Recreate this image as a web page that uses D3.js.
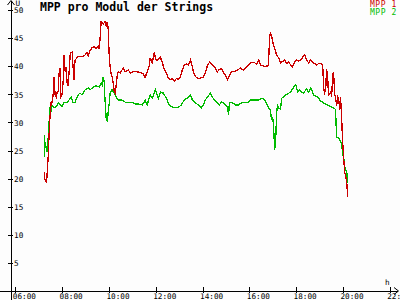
<!DOCTYPE html>
<html>
<head>
<meta charset="utf-8">
<script src="https://cdn.jsdelivr.net/npm/d3@7"></script>
<style>
  body { margin: 0; background: #fdfdfd; }
  svg { display: block; }
  text { font-family: "DejaVu Sans Mono", "Liberation Mono", monospace; }
</style>
</head>
<body>
<div id="chart"></div>
<script>
// MPP 1 (red) and MPP 2 (green), [time, volts per module]
const mpp1 = [
  ["07:14",21.2],["07:16",19.8],["07:19",19.4],["07:21",20.2],["07:24",23.5],["07:27",28.5],["07:29",31.0],
  ["07:32",33.6],["07:34",33.5],["07:37",34.8],["07:39",38.0],["07:42",35.0],["07:45",34.5],["07:47",35.3],
  ["07:50",35.5],["07:52",38.5],["07:55",39.7],["07:57",34.6],["08:00",35.0],["08:03",37.5],["08:05",42.0],
  ["08:08",39.0],["08:10",39.8],["08:13",37.0],["08:15",36.5],["08:18",39.0],["08:21",42.4],["08:26",42.5],
  ["08:28",40.0],["08:31",37.5],["08:33",41.0],["08:39",41.6],["08:46",41.8],["08:54",41.7],["08:59",42.0],
  ["09:04",42.4],["09:07",41.8],["09:12",42.8],["09:17",43.3],["09:22",43.5],["09:27",43.2],["09:33",43.6],
  ["09:35",43.0],["09:38",45.5],["09:40",47.9],["09:45",47.5],["09:50",47.9],["09:53",47.2],["09:56",47.9],
  ["09:58",46.8],["10:01",41.5],["10:03",40.0],["10:06",38.6],["10:08",38.2],["10:11",37.0],["10:14",35.4],
  ["10:16",35.2],["10:19",36.8],["10:21",38.2],["10:24",39.0],["10:29",38.8],["10:37",39.7],["10:42",39.0],
  ["10:50",39.3],["10:55",38.8],["11:02",39.0],["11:13",39.0],["11:20",38.9],["11:28",38.6],["11:33",38.0],
  ["11:38",39.0],["11:44",40.2],["11:46",41.5],["11:51",40.6],["11:56",42.3],["12:02",41.0],["12:07",41.3],
  ["12:12",41.6],["12:17",40.6],["12:22",39.5],["12:27",38.8],["12:32",38.0],["12:37",37.6],["12:43",37.8],
  ["12:48",37.4],["12:53",37.8],["12:58",37.6],["13:03",38.0],["13:08",39.3],["13:13",40.2],["13:19",40.4],
  ["13:24",40.2],["13:29",41.1],["13:34",40.0],["13:37",38.8],["13:44",38.0],["13:49",37.8],["13:55",37.9],
  ["14:02",38.0],["14:07",38.8],["14:13",40.2],["14:18",40.7],["14:25",40.2],["14:33",39.7],["14:38",39.0],
  ["14:43",39.4],["14:49",39.6],["14:54",38.8],["14:59",38.4],["15:04",37.6],["15:09",38.4],["15:14",39.0],
  ["15:22",39.1],["15:30",39.3],["15:37",39.7],["15:45",39.3],["15:53",39.9],["15:58",40.2],["16:03",40.6],
  ["16:11",40.7],["16:19",40.4],["16:24",41.1],["16:29",40.2],["16:37",40.0],["16:44",40.0],["16:49",40.1],
  ["16:52",45.0],["16:54",45.9],["16:57",45.5],["17:00",44.3],["17:05",43.2],["17:10",42.0],["17:15",41.5],
  ["17:20",40.6],["17:25",40.8],["17:30",41.1],["17:36",40.5],["17:41",40.8],["17:46",40.2],["17:51",39.9],
  ["17:56",40.8],["18:01",41.1],["18:06",40.9],["18:12",41.1],["18:17",41.6],["18:22",42.0],["18:27",41.1],
  ["18:32",40.6],["18:37",41.1],["18:45",40.6],["18:53",40.2],["18:58",40.5],["19:03",40.5],["19:08",40.3],
  ["19:11",36.0],["19:13",35.2],["19:16",35.8],["19:18",39.5],["19:21",38.0],["19:23",34.8],["19:26",35.0],
  ["19:29",35.5],["19:31",34.6],["19:34",38.4],["19:36",39.0],["19:39",35.0],["19:41",34.5],["19:44",33.0],
  ["19:47",34.5],["19:49",34.3],["19:52",32.2],["19:54",34.5],["19:57",30.4],["19:59",27.0],["20:02",23.5],
  ["20:05",21.0],["20:07",20.5],["20:10",19.3],["20:12",16.7]
];

const mpp2 = [
  ["07:14",27.8],["07:15",23.9],["07:16",26.5],["07:19",25.6],["07:21",24.7],["07:24",26.9],["07:27",30.4],
  ["07:29",32.7],["07:32",31.8],["07:34",33.1],["07:39",32.6],["07:45",32.8],["07:50",33.5],["07:55",33.1],
  ["08:00",32.8],["08:05",33.5],["08:13",33.6],["08:18",34.0],["08:23",34.5],["08:28",33.6],["08:33",33.6],
  ["08:41",34.9],["08:46",35.2],["08:51",34.9],["08:59",35.8],["09:07",36.1],["09:12",35.8],["09:20",36.3],
  ["09:27",36.5],["09:35",36.3],["09:40",37.0],["09:43",36.6],["09:45",38.1],["09:48",37.2],["09:50",34.0],
  ["09:53",30.8],["09:56",30.1],["09:58",31.7],["10:01",33.5],["10:03",35.2],["10:08",35.8],["10:14",35.2],
  ["10:19",34.5],["10:24",34.0],["10:32",34.0],["10:42",33.6],["10:50",33.5],["11:00",33.5],["11:08",33.3],
  ["11:15",33.3],["11:26",33.1],["11:33",34.0],["11:38",33.1],["11:46",34.9],["11:51",34.3],["11:59",35.8],
  ["12:04",34.9],["12:07",34.3],["12:12",35.4],["12:20",35.2],["12:27",34.3],["12:35",33.1],["12:43",32.7],
  ["12:50",32.6],["12:58",32.7],["13:06",33.1],["13:13",34.0],["13:21",34.3],["13:29",34.9],["13:34",34.0],
  ["13:42",33.5],["13:49",33.1],["13:57",32.6],["14:02",33.1],["14:07",34.0],["14:13",34.5],["14:20",35.2],
  ["14:25",34.5],["14:31",34.0],["14:38",33.5],["14:43",33.1],["14:49",33.6],["14:54",33.5],["15:04",32.7],
  ["15:07",31.3],["15:09",33.6],["15:17",33.5],["15:25",33.1],["15:32",33.1],["15:40",33.5],["15:48",33.5],
  ["15:55",33.5],["16:03",34.0],["16:13",34.0],["16:24",34.0],["16:34",34.3],["16:39",34.0],["16:44",33.4],
  ["16:49",32.6],["16:54",32.2],["16:57",30.4],["17:00",31.0],["17:02",29.5],["17:05",25.4],["17:07",25.6],
  ["17:10",31.5],["17:12",33.0],["17:15",32.6],["17:20",32.4],["17:23",34.3],["17:28",34.5],["17:33",34.9],
  ["17:41",35.2],["17:46",35.4],["17:54",36.3],["17:59",36.7],["18:04",35.4],["18:09",35.8],["18:12",35.5],
  ["18:19",35.2],["18:27",36.0],["18:32",35.4],["18:37",36.1],["18:42",35.5],["18:45",34.8],["18:53",34.6],
  ["18:58",34.3],["19:03",33.8],["19:08",33.6],["19:16",33.2],["19:23",33.0],["19:29",32.8],["19:36",32.6],
  ["19:41",32.3],["19:44",27.4],["19:49",27.2],["19:54",26.6],["19:57",26.2],["19:59",24.5],["20:02",23.8],
  ["20:05",22.0],["20:07",21.5],["20:10",21.2],["20:12",19.3]
];

const seriesNames = ["MPP 1", "MPP 2"];
const seriesColors = ["#cc0000", "#00bb00"];
const yTicks = [5, 10, 15, 20, 25, 30, 35, 40, 45, 50];
const xTicks = [6, 8, 10, 12, 14, 16, 18, 20, 22];
const title = "MPP pro Modul der Strings";

const width = 400, height = 300;

function to_hours(s) {
  let p = s.split(":");
  return +p[0] + (+p[1]) / 60;
}

function pad2(n) {
  return (n < 10 ? "0" : "") + n;
}

const x = d3.scaleLinear().domain([6, 22]).range([15.3, 389.7]);
const y = d3.scaleLinear().domain([0, 50]).range([291, 10]);

const svg = d3.select("#chart").append("svg")
  .attr("width", width)
  .attr("height", height);

svg.append("rect").attr("width", width).attr("height", height).attr("fill", "#fdfdfd");

// axis lines with arrow heads
const axes = svg.append("g").attr("stroke", "#000").attr("fill", "none").attr("shape-rendering", "crispEdges");
axes.append("line").attr("x1", 0).attr("x2", 398).attr("y1", y(0)).attr("y2", y(0));
axes.append("line").attr("x1", 11).attr("x2", 11).attr("y1", 1).attr("y2", height);
svg.append("path")
  .attr("d", `M394,${y(0) - 3.5}L398.5,${y(0)}L394,${y(0) + 3.5}`)
  .attr("stroke", "#000").attr("fill", "none");
svg.append("path")
  .attr("d", "M7.5,5L11,0.5L14.5,5")
  .attr("stroke", "#000").attr("fill", "none");

// y ticks
const yAxis = svg.append("g")
  .attr("transform", "translate(11,0)")
  .call(d3.axisRight(y).tickValues(yTicks).tickFormat(d3.format("d")));
yAxis.select(".domain").remove();
yAxis.selectAll(".tick line").attr("x1", -3).attr("x2", 2).attr("stroke", "#000").attr("shape-rendering", "crispEdges");
yAxis.selectAll(".tick text")
  .attr("x", 3).attr("dy", "0.36em")
  .attr("font-family", null).attr("font-size", "7.7px").attr("text-anchor", "start")
  .attr("fill", "#000");

// x ticks
const xAxis = svg.append("g")
  .attr("transform", `translate(0,${y(0)})`)
  .call(d3.axisBottom(x).tickValues(xTicks).tickFormat(d => pad2(d) + ":00"));
xAxis.select(".domain").remove();
xAxis.selectAll(".tick line").attr("y1", -4).attr("y2", 2).attr("stroke", "#000").attr("shape-rendering", "crispEdges");
xAxis.selectAll(".tick text")
  .attr("x", -3).attr("y", 8).attr("dy", 0)
  .attr("font-family", null).attr("font-size", "7.7px").attr("text-anchor", "start")
  .attr("fill", "#000");

// unit labels
svg.append("text").attr("x", 15.5).attr("y", 6).attr("font-size", "7.7px").attr("fill", "#000").text("U");
svg.append("text").attr("x", 385).attr("y", 284.5).attr("font-size", "7.7px").attr("fill", "#000").text("h");

// series
const line = d3.line()
  .x(d => x(to_hours(d[0])))
  .y(d => y(d[1]));

[mpp2, mpp1].forEach((s, i) => {
  svg.append("path")
    .datum(s)
    .attr("d", line)
    .attr("fill", "none")
    .attr("stroke", seriesColors[1 - i])
    .attr("stroke-width", 1.3)
    .attr("shape-rendering", "crispEdges");
});

// title and legend
svg.append("text")
  .attr("x", 40).attr("y", 11.4)
  .attr("font-size", "11.5px").attr("font-weight", "bold")
  .attr("fill", "#000")
  .text(title);

seriesNames.forEach((n, i) => {
  svg.append("text")
    .attr("x", 397).attr("y", 7 + i * 7.8)
    .attr("text-anchor", "end")
    .attr("font-size", "8px")
    .attr("letter-spacing", "0.6px")
    .attr("fill", seriesColors[i])
    .text(n);
});
</script>
</body>
</html>
